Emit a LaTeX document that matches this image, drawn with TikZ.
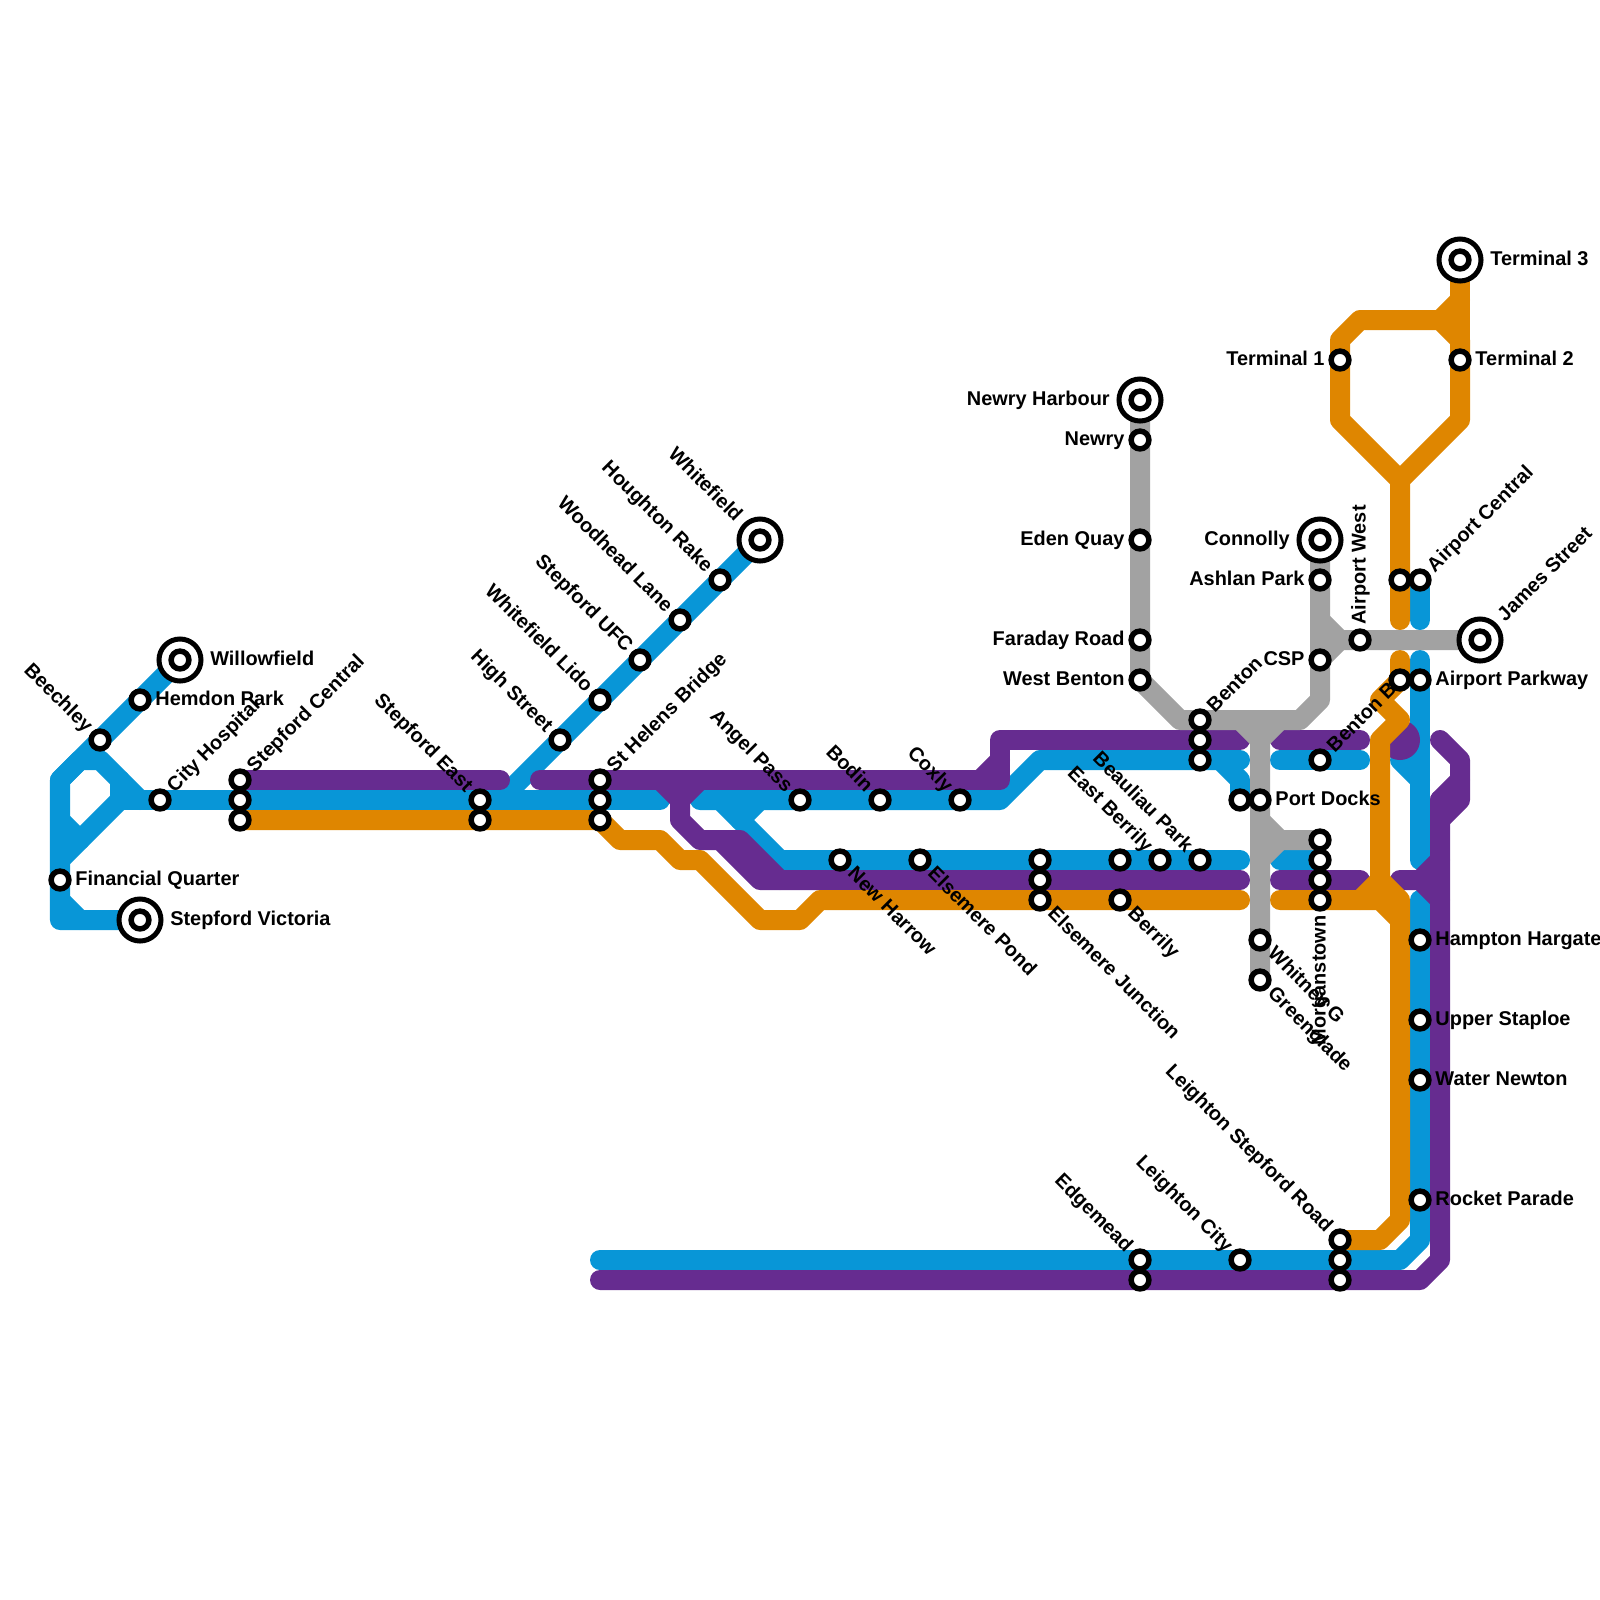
\documentclass[tikz,border=0pt]{standalone}
\usepackage{fontspec}
\setmainfont{Liberation Sans}[BoldFont={Liberation Sans Bold}]
\definecolor{lblue}{HTML}{0896D7}
\definecolor{lpurple}{HTML}{662C90}
\definecolor{lorange}{HTML}{DF8600}
\definecolor{lgrey}{HTML}{A2A2A2}
\pgfdeclarelayer{lines}
\pgfdeclarelayer{labels}
\pgfsetlayers{lines,labels,main}
\tikzset{
  route/.style={line width=0.5cm,line cap=round,line join=round},
  bl/.style={route,draw=lblue},
  pu/.style={route,draw=lpurple},
  or/.style={route,draw=lorange},
  gr/.style={route,draw=lgrey},
  station/.style={circle,draw=black,fill=white,line width=0.1375cm,minimum size=0.445cm,inner sep=0pt},
  ring/.style={circle,draw=black,fill=white,line width=0.125cm,minimum size=1.05cm,inner sep=0pt},
  lab/.style={font=\fontsize{14.17pt}{16pt}\selectfont\bfseries,text=black,inner ysep=0pt,inner xsep=0.38cm,text height=0.36cm,text depth=0.0775cm},
  lR/.style={lab,anchor=west},
  lL/.style={lab,anchor=east},
  lUR/.style={lab,anchor=west,rotate=45},
  lUL/.style={lab,anchor=east,rotate=-45},
  lDR/.style={lab,anchor=west,rotate=-45},
  lU/.style={lab,anchor=west,rotate=90},
  lD/.style={lab,anchor=east,rotate=90},
  far/.style={inner xsep=0.75cm},
}
\newcommand{\stn}[3]{\node[station] (#1) at (#2,#3) {};}
\newcommand{\term}[3]{\node[ring] (#1r) at (#2,#3) {};\node[station] (#1) at (#2,#3) {};}
\begin{document}
\begin{tikzpicture}[x=0.025cm,y=-0.025cm]
\useasboundingbox (0,0) rectangle (1600,1600);
% stations
\term{willow}{180}{660}\stn{hemdon}{140}{700}\stn{beech}{100}{740}\stn{cityh}{160}{800}
\stn{scA}{240}{780}\stn{scB}{240}{800}\stn{scC}{240}{820}\stn{finq}{60}{880}\term{svic}{140}{920}
\stn{seA}{480}{800}\stn{seB}{480}{820}\stn{shA}{600}{780}\stn{shB}{600}{800}\stn{shC}{600}{820}
\stn{high}{560}{740}\stn{wlido}{600}{700}\stn{sufc}{640}{660}\stn{wood}{680}{620}\stn{hough}{720}{580}\term{whitef}{760}{540}
\stn{angel}{800}{800}\stn{bodin}{880}{800}\stn{coxly}{960}{800}\stn{newh}{840}{860}\stn{elsp}{920}{860}
\stn{ejA}{1040}{860}\stn{ejB}{1040}{880}\stn{ejC}{1040}{900}\stn{berA}{1120}{860}\stn{berB}{1120}{900}
\stn{eastb}{1160}{860}\stn{beaul}{1200}{860}\stn{benA}{1200}{720}\stn{benB}{1200}{740}\stn{benC}{1200}{760}
\stn{pdA}{1240}{800}\stn{pdB}{1260}{800}\stn{whit}{1260}{940}\stn{green}{1260}{980}
\stn{morA}{1320}{840}\stn{morB}{1320}{860}\stn{morC}{1320}{880}\stn{morD}{1320}{900}\stn{bentb}{1320}{760}
\stn{csp}{1320}{660}\stn{ashlan}{1320}{580}\term{conn}{1320}{540}\stn{awest}{1360}{640}
\stn{acA}{1400}{580}\stn{acB}{1420}{580}\stn{apA}{1400}{680}\stn{apB}{1420}{680}\term{james}{1480}{640}
\term{tthree}{1460}{260}\stn{ttwo}{1460}{360}\stn{tone}{1340}{360}
\term{newryh}{1140}{400}\stn{newry}{1140}{440}\stn{eden}{1140}{540}\stn{farad}{1140}{640}\stn{wbent}{1140}{680}
\stn{hamp}{1420}{940}\stn{upper}{1420}{1020}\stn{water}{1420}{1080}\stn{rocket}{1420}{1200}
\stn{lsA}{1340}{1240}\stn{lsB}{1340}{1260}\stn{lsC}{1340}{1280}\stn{lcity}{1240}{1260}\stn{edgeA}{1140}{1260}\stn{edgeB}{1140}{1280}
% routes
\begin{pgfonlayer}{lines}
% blue
\draw[bl] (svic.center) -- (60,920) -- (60,780) -- (willow.center);
\draw[bl] (60,780) -- (80,760) -- (100,760) -- (140,800);
\draw[bl] (120,780) -- (120,800);
\draw[bl] (60,860) -- (120,800);
\draw[bl] (60,820) -- (80,840);
\draw[bl] (60,900) -- (80,920);
\draw[bl] (120,800) -- (660,800);
\draw[bl] (500,800) -- (whitef.center);
\draw[bl] (700,800) -- (1000,800) -- (1040,760) -- (1240,760);
\draw[bl] (1220,760) -- (1240,780) -- (1240,800);
\draw[bl] (720,800) -- (780,860) -- (1240,860);
\draw[bl] (760,800) -- (740,820);
\draw[bl] (1280,760) -- (1360,760);
\draw[bl] (1280,860) -- (morB.center);
\draw[bl] (1420,580) -- (1420,620);
\draw[bl] (1420,660) -- (1420,860);
\draw[bl] (1400,760) -- (1420,780);
\draw[bl] (1420,900) -- (1420,1240) -- (1400,1260) -- (600,1260);
% purple
\fill[lpurple] (1400,740) circle (20);
\draw[pu] (scA.center) -- (500,780);
\draw[pu] (540,780) -- (1000,780) -- (1000,740) -- (1240,740);
\draw[pu] (980,780) -- (1000,760);
\draw[pu] (1280,740) -- (1360,740);
\draw[pu] (660,780) -- (680,800) -- (680,820) -- (700,840) -- (720,840) -- (760,880) -- (1240,880);
\draw[pu] (700,780) -- (680,800);
\draw[pu] (720,840) -- (740,840) -- (780,880);
\draw[pu] (1280,880) -- (1360,880);
\draw[pu] (1400,880) -- (1420,880) -- (1440,860);
\draw[pu] (1420,880) -- (1440,900);
\draw[pu] (1440,740) -- (1460,760) -- (1460,800) -- (1440,820);
\draw[pu] (1440,800) -- (1460,780);
\draw[pu] (1440,800) -- (1440,1260) -- (1420,1280) -- (600,1280);
% orange
\draw[or] (scC.center) -- (600,820) -- (620,840) -- (660,840) -- (680,860) -- (700,860) -- (760,920) -- (800,920) -- (820,900) -- (1240,900);
\draw[or] (1280,900) -- (1380,900) -- (1400,920);
\draw[or] (1360,900) -- (1380,880) -- (1400,900) -- (1400,1220) -- (1380,1240) -- (lsA.center);
\draw[or] (1380,880) -- (1380,740) -- (1400,720) -- (1380,700) -- (apA.center) -- (1400,660);
\draw[or] (1400,620) -- (1400,480) -- (1340,420) -- (1340,340) -- (1360,320) -- (1440,320) -- (1460,340) -- (1460,420) -- (1400,480);
\draw[or] (1440,320) -- (1460,300);
\draw[or] (tthree.center) -- (1460,340);
% grey
\draw[gr] (newryh.center) -- (1140,680) -- (1180,720) -- (1300,720) -- (1320,700) -- (conn.center);
\draw[gr] (1240,720) -- (1260,740) -- (green.center);
\draw[gr] (1280,720) -- (1260,740);
\draw[gr] (1260,820) -- (1280,840) -- (morA.center);
\draw[gr] (1280,840) -- (1260,860);
\draw[gr] (1320,620) -- (1340,640) -- (james.center);
\draw[gr] (1320,660) -- (1340,640);
\end{pgfonlayer}
% labels
\begin{pgfonlayer}{labels}
\node[lR,far] (t01) at (willow) {Willowfield};
\node[lR] (t02) at (hemdon) {Hemdon Park};
\node[lUL] (t03) at (beech) {Beechley};
\node[lUR] (t04) at (cityh) {City Hospital};
\node[lUR] (t05) at (scA) {Stepford Central};
\node[lR] (t06) at (finq) {Financial Quarter};
\node[lR,far] (t07) at (svic) {Stepford Victoria};
\node[lUL] (t08) at (seA) {Stepford East};
\node[lUR] (t09) at (shA) {St Helens Bridge};
\node[lUL] (t10) at (high) {High Street};
\node[lUL] (t11) at (wlido) {Whitefield Lido};
\node[lUL] (t12) at (sufc) {Stepford UFC};
\node[lUL] (t13) at (wood) {Woodhead Lane};
\node[lUL] (t14) at (hough) {Houghton Rake};
\node[lUL,far] (t15) at (whitef) {Whitefield};
\node[lUL] (t16) at (angel) {Angel Pass};
\node[lUL] (t17) at (bodin) {Bodin};
\node[lUL] (t18) at (coxly) {Coxly};
\node[lDR] (t19) at (newh) {New Harrow};
\node[lDR] (t20) at (elsp) {Elsemere Pond};
\node[lDR] (t21) at (ejC) {Elsemere Junction};
\node[lDR] (t22) at (berB) {Berrily};
\node[lUL] (t23) at (eastb) {East Berrily};
\node[lUL] (t24) at (beaul) {Beauliau Park};
\node[lUR] (t25) at (benA) {Benton};
\node[lR] (t26) at (pdB) {Port Docks};
\node[lDR] (t27) at (whit) {Whitney G};
\node[lDR] (t28) at (green) {Greenglade};
\node[lD] (t29) at (morD) {Morganstown};
\node[lUR] (t30) at (bentb) {Benton B};
\node[lL] (t31) at (csp) {CSP};
\node[lL] (t32) at (ashlan) {Ashlan Park};
\node[lL,far] (t33) at (conn) {Connolly};
\node[lU] (t34) at (awest) {Airport West};
\node[lUR] (t35) at (acB) {Airport Central};
\node[lR] (t36) at (apB) {Airport Parkway};
\node[lUR,far] (t37) at (james) {James Street};
\node[lR,far] (t38) at (tthree) {Terminal 3};
\node[lR] (t39) at (ttwo) {Terminal 2};
\node[lL] (t40) at (tone) {Terminal 1};
\node[lL,far] (t41) at (newryh) {Newry Harbour};
\node[lL] (t42) at (newry) {Newry};
\node[lL] (t43) at (eden) {Eden Quay};
\node[lL] (t44) at (farad) {Faraday Road};
\node[lL] (t45) at (wbent) {West Benton};
\node[lR] (t46) at (hamp) {Hampton Hargate};
\node[lR] (t47) at (upper) {Upper Staploe};
\node[lR] (t48) at (water) {Water Newton};
\node[lR] (t49) at (rocket) {Rocket Parade};
\node[lUL] (t50) at (lsA) {Leighton Stepford Road};
\node[lUL] (t51) at (lcity) {Leighton City};
\node[lUL] (t52) at (edgeA) {Edgemead};
\end{pgfonlayer}
\end{tikzpicture}
\end{document}
